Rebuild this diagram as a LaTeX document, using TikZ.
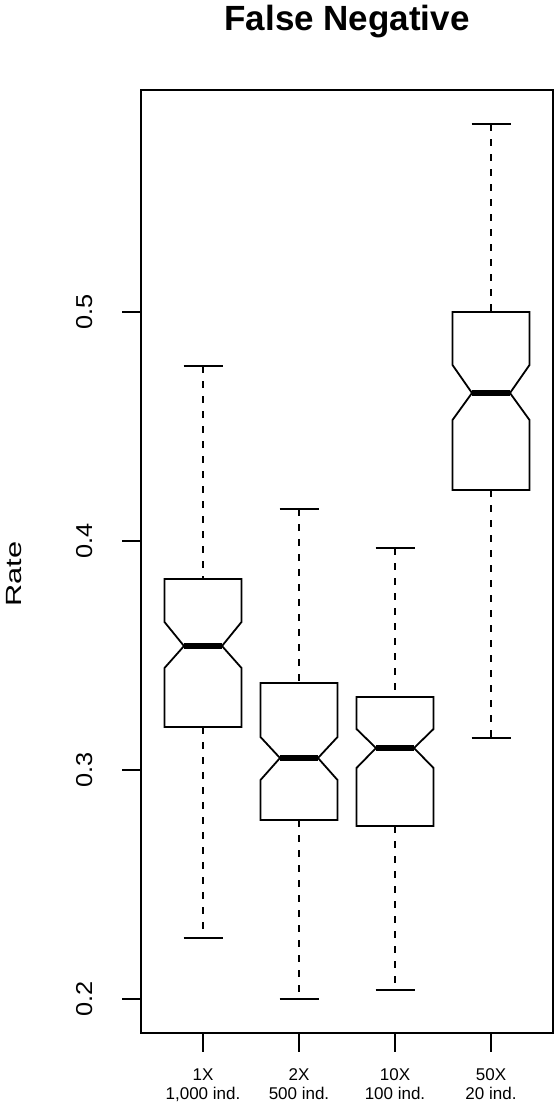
\documentclass[tikz,border=0pt]{standalone}
\usepackage{fontspec}
\setmainfont{Liberation Sans}
\usepackage{graphicx}
\newcommand\notchbox[9]{%
  % #1 center, #2 top, #3 bottom, #4 median, #5 notch top, #6 notch bottom, #7 whisker top, #8 whisker bottom, #9 name
  \draw[whisk] (#1,#7) -- (#1,#2);
  \draw[whisk] (#1,#3) -- (#1,#8);
  \draw[capl] (#1-19.5,#7) -- (#1+19.5,#7);
  \draw[capl] (#1-19.5,#8) -- (#1+19.5,#8);
  \draw[boxl] (#1-38.5,#2) -- (#1+38.5,#2) -- (#1+38.5,#5) -- (#1+19,#4) -- (#1+38.5,#6)
     -- (#1+38.5,#3) -- (#1-38.5,#3) -- (#1-38.5,#6) -- (#1-19,#4) -- (#1-38.5,#5) -- cycle;
  \draw[medl] (#1-19,#4) -- (#1+19,#4);
}
\begin{document}
\begin{tikzpicture}[x=1pt,y=-1pt,
  whisk/.style={line width=1.6pt,dash pattern=on 7pt off 8pt},
  capl/.style={line width=1.8pt},
  boxl/.style={line width=1.8pt,line join=miter},
  medl/.style={line width=5.5pt},
  frame/.style={line width=1.8pt},
  tickl/.style={line width=1.8pt},
  ylab/.style={rotate=90,anchor=base,font=\fontsize{23}{23}\selectfont,inner sep=0pt},
  xlab/.style={anchor=base,font=\fontsize{17}{17}\selectfont,inner sep=0pt}]
\useasboundingbox (0,0) rectangle (555,1103);
\fill[white] (0,0) rectangle (555,1103);
% title
\node[anchor=base,inner sep=0pt,font=\fontsize{35}{35}\bfseries\selectfont] (title) at (347,30) {False Negative};
% frame
\draw[frame] (141,90) rectangle (553,1033);
% y axis
\foreach \v/\yy in {0.2/999,0.3/770,0.4/541,0.5/312}{
  \draw[tickl] (122,\yy) -- (141,\yy);
  \node[ylab] at (92,\yy) {\scalebox{1.1}[1]{\v}};
}
\node[rotate=90,anchor=base,inner sep=0pt,font=\fontsize{22}{22}\selectfont] (ylabel) at (21,574) {\scalebox{1.4}[1]{Rate}};
% x axis
\foreach \xx/\a/\b in {203/1X/{1,000 ind.},299/2X/500 ind.,395/10X/100 ind.,491/50X/20 ind.}{
  \draw[tickl] (\xx,1033) -- (\xx,1052);
  \node[xlab] at (\xx,1080) {\a};
  \node[xlab] at (\xx,1099) {\b};
}
% boxes
\notchbox{203}{579}{727}{646}{622}{668}{366}{938}{b1}
\notchbox{299}{683}{820}{758}{737}{780}{509}{999}{b2}
\notchbox{395}{697}{826}{748}{729}{768}{548}{990}{b3}
\notchbox{491}{312}{490}{393}{365}{420}{124}{738}{b4}
\end{tikzpicture}
\end{document}
